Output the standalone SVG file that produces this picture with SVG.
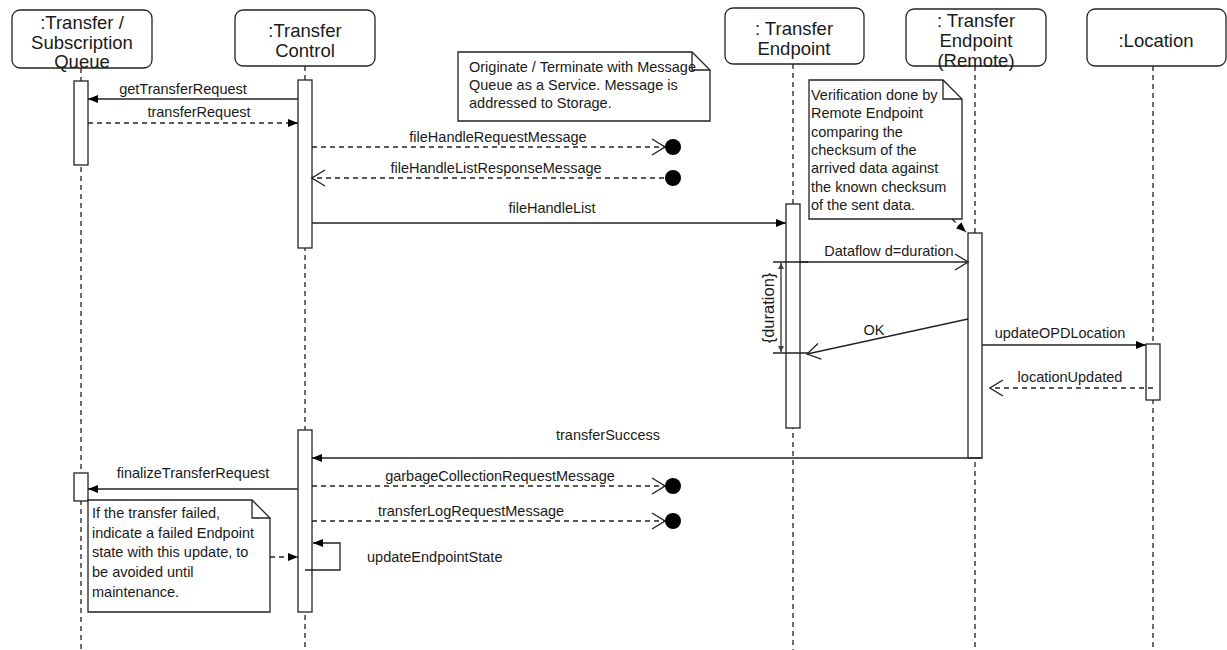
<svg xmlns="http://www.w3.org/2000/svg" width="1227" height="650" viewBox="0 0 1227 650">
  <style>
    .head { fill: #fff; stroke: #222; stroke-width: 1.3; }
    .headtxt { font-family: "Liberation Sans", Arial, sans-serif; font-size: 18.5px; fill: #1a1a1a; text-anchor: middle; }
    .life { stroke: #222; stroke-width: 1.3; stroke-dasharray: 5 4; fill: none; }
    .act { fill: #fff; stroke: #222; stroke-width: 1.3; }
    .msg { stroke: #222; stroke-width: 1.3; fill: none; }
    .ret { stroke: #222; stroke-width: 1.3; fill: none; stroke-dasharray: 5 4; }
    .lbl { font-family: "Liberation Sans", Arial, sans-serif; font-size: 14.5px; fill: #1a1a1a; text-anchor: middle; }
    .lbl-l { font-family: "Liberation Sans", Arial, sans-serif; font-size: 14.5px; fill: #1a1a1a; }
    .note { fill: #fff; stroke: #222; stroke-width: 1.3; }
    .dot { fill: #000; }
  </style>
  <defs>
    <marker id="block" viewBox="0 0 10 8" refX="10" refY="4" markerWidth="10" markerHeight="8" markerUnits="userSpaceOnUse" orient="auto">
      <path d="M0,0 L10,4 L0,8 z" fill="#000"/>
    </marker>
    <marker id="open" viewBox="0 0 15 18" refX="14" refY="9" markerWidth="15" markerHeight="18" markerUnits="userSpaceOnUse" orient="auto">
      <path d="M1,1 L14,9 L1,17" fill="none" stroke="#222" stroke-width="1.3"/>
    </marker>
    <marker id="small" viewBox="0 0 6 6" refX="6" refY="3" markerWidth="6" markerHeight="6" markerUnits="userSpaceOnUse" orient="auto-start-reverse">
      <path d="M0,0 L6,3 L0,6 z" fill="#444"/>
    </marker>
  </defs>

  <!-- lifelines -->
  <g id="lifelines">
    <line class="life" x1="81" y1="68" x2="81" y2="650"/>
    <line class="life" x1="305" y1="66" x2="305" y2="650"/>
    <line class="life" x1="793" y1="64" x2="793" y2="650"/>
    <line class="life" x1="975" y1="66" x2="975" y2="650"/>
    <line class="life" x1="1153" y1="66" x2="1153" y2="650"/>
  </g>

  <!-- participants -->
  <g id="queue">
    <rect class="head" x="12" y="10" width="140" height="58" rx="8"/>
    <text class="headtxt" x="82" y="29">:Transfer /</text>
    <text class="headtxt" x="82" y="49">Subscription</text>
    <text class="headtxt" x="82" y="68">Queue</text>
    <rect class="act" x="74" y="81" width="14" height="84"/>
    <rect class="act" x="74" y="473" width="14" height="28"/>
  </g>
  <g id="control">
    <rect class="head" x="235" y="10" width="140" height="56" rx="8"/>
    <text class="headtxt" x="305" y="37">:Transfer</text>
    <text class="headtxt" x="305" y="57">Control</text>
    <rect class="act" x="298" y="80" width="14" height="168"/>
    <rect class="act" x="298" y="430" width="14" height="182"/>
  </g>
  <g id="endpoint">
    <rect class="head" x="725" y="8" width="139" height="56" rx="8"/>
    <text class="headtxt" x="794" y="35">: Transfer</text>
    <text class="headtxt" x="794" y="55">Endpoint</text>
    <rect class="act" x="786" y="204" width="14" height="224"/>
  </g>
  <g id="remote">
    <rect class="head" x="906" y="9" width="140" height="57" rx="8"/>
    <text class="headtxt" x="976" y="27">: Transfer</text>
    <text class="headtxt" x="976" y="47">Endpoint</text>
    <text class="headtxt" x="976" y="67">(Remote)</text>
    <rect class="act" x="968" y="233" width="14" height="225"/>
  </g>
  <g id="location">
    <rect class="head" x="1087" y="9" width="139" height="57" rx="8"/>
    <text class="headtxt" x="1156" y="47">:Location</text>
    <rect class="act" x="1146" y="344" width="14" height="56"/>
  </g>

  <!-- notes -->
  <g id="note-storage">
    <path class="note" d="M458,52 H692 L710,70 V121 H458 Z"/>
    <path class="msg" d="M692,52 V70 H710"/>
    <text class="lbl-l" x="469" y="72">Originate / Terminate with Message</text>
    <text class="lbl-l" x="469" y="90">Queue as a Service. Message is</text>
    <text class="lbl-l" x="469" y="108">addressed to Storage.</text>
  </g>
  <g id="note-verify">
    <path class="note" d="M809,80 H943 L962,99 V219 H809 Z"/>
    <path class="msg" d="M943,80 V99 H962"/>
    <text class="lbl-l" x="811" y="100">Verification done by</text>
    <text class="lbl-l" x="811" y="118">Remote Endpoint</text>
    <text class="lbl-l" x="811" y="137">comparing the</text>
    <text class="lbl-l" x="811" y="155">checksum of the</text>
    <text class="lbl-l" x="811" y="173">arrived data against</text>
    <text class="lbl-l" x="811" y="192">the known checksum</text>
    <text class="lbl-l" x="811" y="210">of the sent data.</text>
  </g>
  <g id="note-failed">
    <path class="note" d="M88,500 H252 L270,518 V612 H88 Z"/>
    <path class="msg" d="M252,500 V518 H270"/>
    <text class="lbl-l" x="92" y="518">If the transfer failed,</text>
    <text class="lbl-l" x="92" y="538">indicate a failed Endpoint</text>
    <text class="lbl-l" x="92" y="557">state with this update, to</text>
    <text class="lbl-l" x="92" y="577">be avoided until</text>
    <text class="lbl-l" x="92" y="597">maintenance.</text>
  </g>

  <!-- messages -->
  <g id="connectors">
    <line class="msg" x1="298" y1="99" x2="88" y2="99" marker-end="url(#block)"/>
    <text class="lbl" x="183" y="94">getTransferRequest</text>

    <line class="ret" x1="88" y1="123" x2="298" y2="123" marker-end="url(#block)"/>
    <text class="lbl" x="199" y="117">transferRequest</text>

    <line class="ret" x1="312" y1="147" x2="665" y2="147" marker-end="url(#open)"/>
    <circle class="dot" cx="673" cy="147" r="8"/>
    <text class="lbl" x="498" y="142">fileHandleRequestMessage</text>

    <line class="ret" x1="673" y1="178" x2="312" y2="178" marker-end="url(#open)"/>
    <circle class="dot" cx="673" cy="178" r="8"/>
    <text class="lbl" x="496" y="173">fileHandleListResponseMessage</text>

    <line class="msg" x1="312" y1="223" x2="786" y2="223" marker-end="url(#block)"/>
    <text class="lbl" x="552" y="213">fileHandleList</text>

    <line class="ret" x1="952" y1="219" x2="966" y2="232" marker-end="url(#block)"/>

    <line class="msg" x1="800" y1="262" x2="968" y2="262" marker-end="url(#open)"/>
    <text class="lbl" x="889" y="256">Dataflow d=duration</text>

    <!-- duration constraint -->
    <line class="msg" x1="773" y1="262" x2="808" y2="262"/>
    <line class="msg" x1="773" y1="353" x2="808" y2="353"/>
    <line x1="781" y1="263" x2="781" y2="352" stroke="#555" stroke-width="1.6" marker-start="url(#small)" marker-end="url(#small)"/>
    <text class="lbl" style="font-size:16.5px" transform="translate(774,308) rotate(-90)" x="0" y="0">{duration}</text>

    <line class="msg" x1="968" y1="319" x2="807" y2="354" marker-end="url(#open)"/>
    <rect x="858" y="322" width="30" height="14" fill="#fff"/>
    <text class="lbl" x="874" y="335">OK</text>

    <line class="msg" x1="982" y1="345" x2="1146" y2="345" marker-end="url(#block)"/>
    <text class="lbl" x="1060" y="338">updateOPDLocation</text>

    <line class="ret" x1="1153" y1="388" x2="990" y2="388" marker-end="url(#open)"/>
    <text class="lbl" x="1070" y="382">locationUpdated</text>

    <line class="msg" x1="982" y1="458" x2="312" y2="458" marker-end="url(#block)"/>
    <text class="lbl" x="608" y="440">transferSuccess</text>

    <line class="msg" x1="298" y1="489" x2="88" y2="489" marker-end="url(#block)"/>
    <text class="lbl" x="193" y="478">finalizeTransferRequest</text>

    <line class="ret" x1="312" y1="486" x2="665" y2="486" marker-end="url(#open)"/>
    <circle class="dot" cx="673" cy="486" r="8"/>
    <text class="lbl" x="500" y="481">garbageCollectionRequestMessage</text>

    <line class="ret" x1="312" y1="521" x2="665" y2="521" marker-end="url(#open)"/>
    <circle class="dot" cx="673" cy="521" r="8"/>
    <text class="lbl" x="471" y="516">transferLogRequestMessage</text>

    <polyline class="msg" points="305,570 340,570 340,543 313,543" marker-end="url(#block)"/>
    <text class="lbl-l" x="367" y="562">updateEndpointState</text>

    <line class="ret" x1="270" y1="557" x2="298" y2="557" marker-end="url(#block)"/>
  </g>
</svg>
